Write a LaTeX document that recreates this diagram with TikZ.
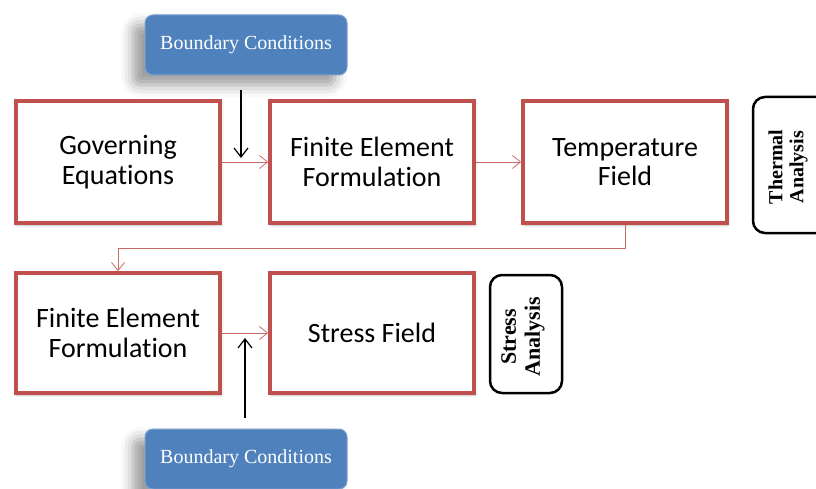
\documentclass[tikz,border=0pt]{standalone}
\usepackage{fontspec}
\setmainfont{Liberation Serif}
\newfontfamily\boxfont[Ligatures=NoCommon]{Carlito}
\usetikzlibrary{arrows.meta,shadows.blur}
\definecolor{boxred}{HTML}{C0504D}
\definecolor{bcblue}{HTML}{4F81BD}
\begin{document}
\begin{tikzpicture}[x=1pt,y=-1pt,
  stage/.style={draw=boxred, line width=3.8pt, fill=white,
    minimum width=204pt, minimum height=122pt, align=center,
    font=\boxfont\fontsize{28}{29.5}\selectfont,
    blur shadow={shadow xshift=1pt, shadow yshift=-2pt,
      shadow blur radius=3pt, shadow opacity=25}},
  bc/.style={fill=bcblue, rounded corners=8pt, minimum width=202pt,
    minimum height=60pt, text=white, draw=bcblue!75!white, line width=1pt,
    font=\fontsize{20}{24}\selectfont,
    blur shadow={shadow xshift=-12pt, shadow yshift=-10pt,
      shadow blur radius=12pt, shadow opacity=40}},
  phase/.style={draw=black, line width=2.5pt, rounded corners=12pt, fill=white},
  phaselbl/.style={rotate=90, align=center, font=\bfseries},
  flow/.style={draw=boxred!85!white, line width=0.8pt,
    -{Straight Barb[length=8pt, width=13pt]}},
  feed/.style={draw=black, line width=1.2pt,
    -{Straight Barb[length=9pt, width=14pt]}}
]
\useasboundingbox (0,0) rectangle (816,489);
\clip (0,0) rectangle (816,489);

% boundary condition inputs
\node[bc] (bctop) at (246,45) {Boundary Conditions};
\node[bc] (bcbot) at (246,459) {Boundary Conditions};

% thermal stage
\node[stage] (gov)  at (118,162) {Governing\\Equations};
\node[stage] (fe1)  at (372,162) {Finite Element\\Formulation};
\node[stage] (temp) at (625,162) {Temperature\\Field};

% structural stage
\node[stage, minimum height=120pt] (fe2)    at (118,333) {Finite Element\\Formulation};
\node[stage, minimum height=120pt] (stress) at (372,333) {Stress Field};

% phase tags
\node[phase, minimum width=90pt, minimum height=136pt] (therm) at (798,165) {};
\node[phaselbl, font=\bfseries\fontsize{20}{21}\selectfont] (thermlbl)
  at (788,167) {Thermal\\Analysis};
\node[phase, minimum width=72pt, minimum height=118pt] (stresstag) at (526,334) {};
\node[phaselbl, font=\bfseries\fontsize{22}{24}\selectfont] (stresslbl)
  at (523,337) {Stress\\Analysis};

% flow between stages
\draw[flow] (gov.east) -- (fe1.west);
\draw[flow] (fe1.east) -- (temp.west);
\draw[flow] (temp.south) -- ++(0,23) -| (fe2.north);
\draw[flow] (fe2.east) -- (stress.west);

% boundary condition feeds
\coordinate (feedtopA) at (241,90);
\coordinate (feedtopB) at (241,158);
\draw[feed] (feedtopA) -- (feedtopB);
\coordinate (feedbotA) at (245,418);
\coordinate (feedbotB) at (245,338);
\draw[feed] (feedbotA) -- (feedbotB);
\end{tikzpicture}
\end{document}
